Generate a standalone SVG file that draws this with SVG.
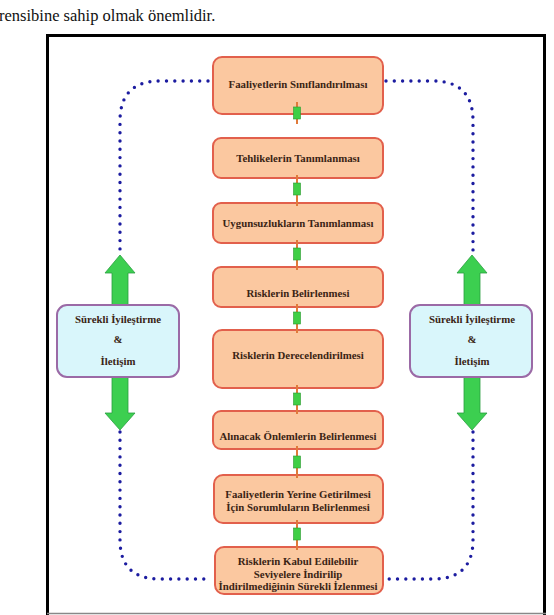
<svg xmlns="http://www.w3.org/2000/svg" width="554" height="615" viewBox="0 0 554 615">
<defs>
<style>
.box{fill:#fbc8a0;stroke:#e2604c;stroke-width:2}
.side{fill:#d9f6fb;stroke:#9b6aa6;stroke-width:2}
.t{font-family:"Liberation Serif","DejaVu Serif",serif;font-weight:bold;font-size:10.8px;fill:#3a2414;text-anchor:middle}
.dot{fill:none;stroke:#1c1ca0;stroke-width:3.4;stroke-linecap:round;stroke-dasharray:0 8.3}
.arr{fill:#3ccf50;stroke:#2aa040;stroke-width:0.8}
.lnk{stroke:#e07a3a;stroke-width:2}
.lg{fill:#3fcf45;stroke:#2a9a30;stroke-width:0.6}
</style>
</defs>
<rect width="554" height="615" fill="#ffffff"/>
<text x="-1" y="21" font-family="'Liberation Serif','DejaVu Serif',serif" font-size="16.5" fill="#111">rensibine sahip olmak önemlidir.</text>
<path d="M47.5 615 V35.5 H544.5 V615" fill="none" stroke="#000" stroke-width="3"/>
<line x1="47" y1="613.5" x2="546" y2="613.5" stroke="#888" stroke-width="1.5"/>
<g id="n1"><rect class="box" x="213" y="57" width="170" height="57" rx="9"/><text class="t" x="298" y="88">Faaliyetlerin Sınıflandırılması</text></g>
<g id="n2"><rect class="box" x="213" y="138" width="170" height="40" rx="8"/><text class="t" x="298" y="162">Tehlikelerin Tanımlanması</text></g>
<g id="n3"><rect class="box" x="213" y="203" width="170" height="40" rx="8"/><text class="t" x="298" y="227">Uygunsuzlukların Tanımlanması</text></g>
<g id="n4"><rect class="box" x="213" y="267" width="170" height="40" rx="8"/><text class="t" x="298" y="297">Risklerin Belirlenmesi</text></g>
<g id="n5"><rect class="box" x="213" y="330" width="170" height="58" rx="9"/><text class="t" x="298" y="359">Risklerin Derecelendirilmesi</text></g>
<g id="n6"><rect class="box" x="213" y="411" width="170" height="38" rx="8"/><text class="t" x="298" y="440">Alınacak Önlemlerin Belirlenmesi</text></g>
<g id="n7"><rect class="box" x="214" y="475" width="169" height="48" rx="9"/><text class="t" x="298" y="498">Faaliyetlerin Yerine Getirilmesi</text><text class="t" x="298" y="511">İçin Sorumluların Belirlenmesi</text></g>
<g id="n8"><rect class="box" x="215" y="547" width="168" height="47" rx="9"/><text class="t" x="298" y="565">Risklerin Kabul Edilebilir</text><text class="t" x="298" y="578">Seviyelere İndirilip</text><text class="t" x="298" y="590">İndirilmediğinin Sürekli İzlenmesi</text></g>
<g id="connectors">
<path class="dot" d="M208 81 H160 Q120 81 120 121 V253"/>
<path class="dot" d="M386 81 H433 Q473 81 473 121 V253"/>
<path class="dot" d="M120 432 V540 Q120 579 160 579 H208"/>
<path class="dot" d="M473 432 V540 Q473 579 433 579 H386"/>
<g id="links">
<line class="lnk" x1="297" y1="102" x2="297" y2="124"/><rect class="lg" x="293.5" y="107" width="7" height="12"/>
<line class="lnk" x1="297" y1="175" x2="297" y2="206"/><rect class="lg" x="293.5" y="183" width="7" height="12"/>
<line class="lnk" x1="297" y1="240" x2="297" y2="270"/><rect class="lg" x="293.5" y="248" width="7" height="12"/>
<line class="lnk" x1="297" y1="304" x2="297" y2="333"/><rect class="lg" x="293.5" y="312" width="7" height="12"/>
<line class="lnk" x1="297" y1="385" x2="297" y2="414"/><rect class="lg" x="293.5" y="393" width="7" height="12"/>
<line class="lnk" x1="297" y1="446" x2="297" y2="478"/><rect class="lg" x="293.5" y="456" width="7" height="12"/>
<line class="lnk" x1="297" y1="520" x2="297" y2="550"/><rect class="lg" x="293.5" y="528" width="7" height="12"/>
</g>
<path class="arr" d="M120 255 L135 273 H128 V306 H112 V273 H105 Z"/>
<path class="arr" d="M120 430 L135 413 H128 V376 H112 V413 H105 Z"/>
<path class="arr" d="M472 255 L487 273 H480 V306 H464 V273 H457 Z"/>
<path class="arr" d="M472 430 L487 413 H480 V376 H464 V413 H457 Z"/>
</g>
<g id="left"><rect class="side" x="57" y="305" width="122" height="72" rx="10"/><text class="t" x="118" y="323">Sürekli İyileştirme</text><text class="t" x="118" y="343">&amp;</text><text class="t" x="118" y="365">İletişim</text></g>
<g id="right"><rect class="side" x="410" y="305" width="122" height="72" rx="10"/><text class="t" x="472" y="323">Sürekli İyileştirme</text><text class="t" x="472" y="343">&amp;</text><text class="t" x="472" y="365">İletişim</text></g>
</svg>
